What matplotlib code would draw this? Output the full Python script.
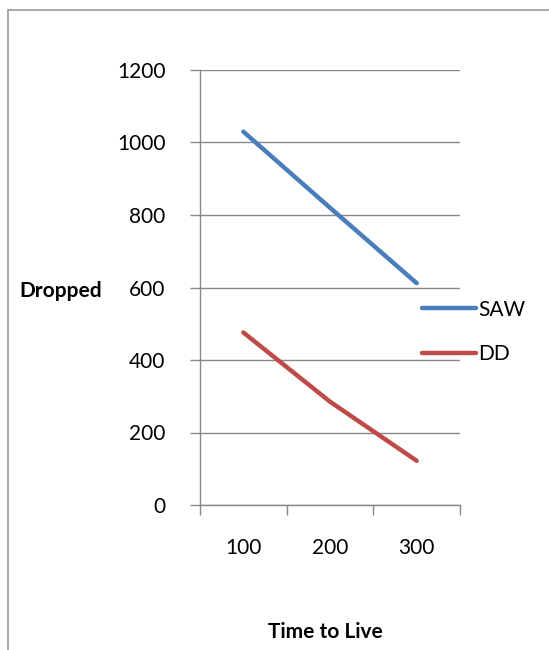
import matplotlib
matplotlib.use("Agg")
import matplotlib.pyplot as plt
from matplotlib.patches import Rectangle

categories = ["100", "200", "300"]
saw = [1030, 820, 612]
dd = [476, 285, 122]
yticks = [0, 200, 400, 600, 800, 1000, 1200]

W, H = 549, 650
fig = plt.figure(figsize=(W / 100, H / 100), dpi=100)
plt.rcParams["font.family"] = ["Lato", "DejaVu Sans"]
FS = 15

grid_c = "#888888"
blue = "#4A7EBB"
red = "#BE4B48"

# chart area border (runs off the right and bottom edges)
fig.add_artist(Rectangle((8 / W, -0.05), 1.2, (H - 10) / H + 0.05,
                         transform=fig.transFigure, fill=False,
                         edgecolor="#999999", lw=1.2))

ax = fig.add_axes([200 / W, (H - 505) / H, 260 / W, 435 / H])
x = list(range(len(categories)))
ax.plot(x, saw, color=blue, lw=3.2, solid_capstyle="round", label="SAW")
ax.plot(x, dd, color=red, lw=3.2, solid_capstyle="round", label="DD")

ax.set_xlim(-0.5, len(categories) - 0.5)
ax.set_ylim(0, 1200)
ax.set_yticks(yticks)
ax.set_yticklabels([str(v) for v in yticks], fontsize=FS)
ax.yaxis.grid(True, color=grid_c, lw=1)
ax.set_axisbelow(True)

ax.set_xticks([i - 0.5 for i in range(len(categories) + 1)])
ax.set_xticklabels([])
ax.set_xticks(x, minor=True)
ax.set_xticklabels(categories, minor=True, fontsize=FS)
ax.tick_params(axis="x", which="major", length=7, width=1, color=grid_c, direction="out")
ax.tick_params(axis="x", which="minor", length=0, pad=24)
ax.tick_params(axis="y", length=7, width=1, color=grid_c, direction="out", pad=18)

for s in ["top", "right"]:
    ax.spines[s].set_visible(False)
for s in ["left", "bottom"]:
    ax.spines[s].set_color(grid_c)
    ax.spines[s].set_linewidth(1)

fig.text(61 / W, 1 - 291 / H, "Dropped", fontsize=FS, fontweight="bold",
         ha="center", va="center")
fig.text(325 / W, 1 - 632 / H, "Time to Live", fontsize=FS, fontweight="bold",
         ha="center", va="center")

fig.legend(loc="center left", bbox_to_anchor=(422 / W, 1 - 332 / H),
           frameon=False, fontsize=FS, handlelength=2.6, handletextpad=0.1,
           labelspacing=1.2, borderaxespad=0, borderpad=0)

fig.savefig("out.png", dpi=100)
